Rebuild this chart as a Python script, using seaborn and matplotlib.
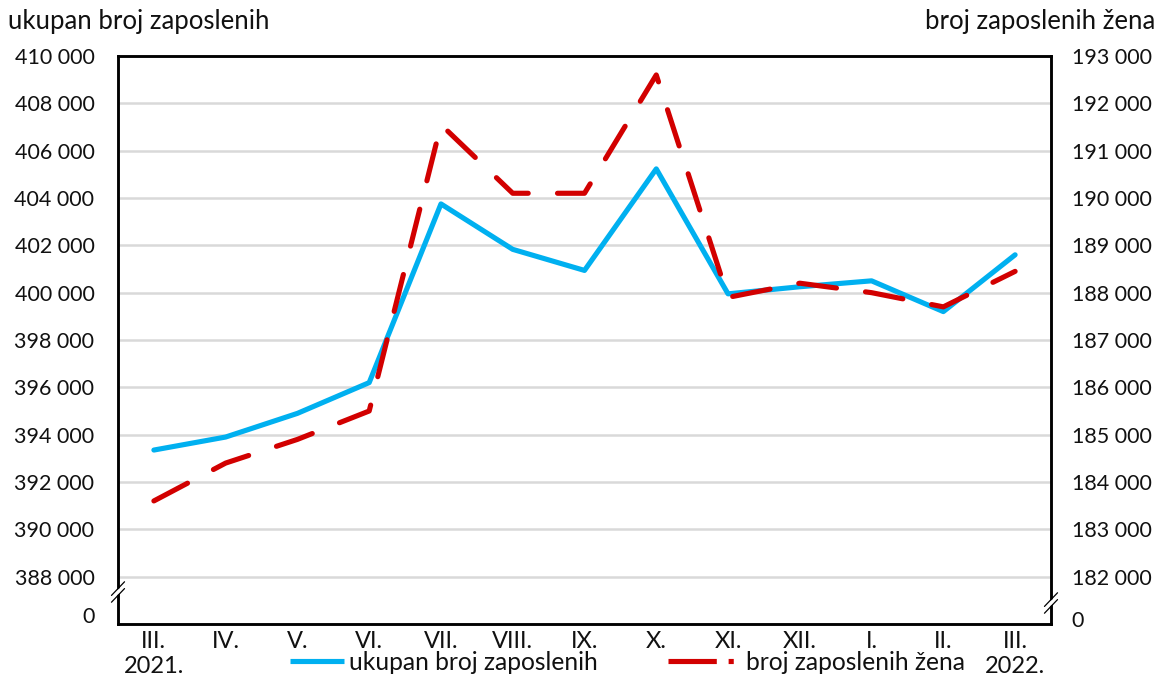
import numpy as np
import pandas as pd
import matplotlib
matplotlib.use("Agg")
import matplotlib.pyplot as plt
from matplotlib.lines import Line2D
import seaborn as sns

months = ["III.\n2021.", "IV.", "V.", "VI.", "VII.", "VIII.", "IX.", "X.",
          "XI.", "XII.", "I.", "II.", "III.\n2022."]
ukupno = [393350, 393900, 394900, 396200, 403750, 401830, 400940, 405230,
          399950, 400250, 400500, 399200, 401600]
zene = [183600, 184400, 184900, 185500, 191550, 190100, 190100, 192600,
        187900, 188200, 188000, 187700, 188450]
left_ticks = [386400, 388000, 390000, 392000, 394000, 396000, 398000, 400000,
              402000, 404000, 406000, 408000, 410000]
left_labels = ["0", "388 000", "390 000", "392 000", "394 000", "396 000", "398 000",
               "400 000", "402 000", "404 000", "406 000", "408 000", "410 000"]
right_ticks = [181100, 182000, 183000, 184000, 185000, 186000, 187000, 188000,
               189000, 190000, 191000, 192000, 193000]
right_labels = ["0", "182 000", "183 000", "184 000", "185 000", "186 000", "187 000",
                "188 000", "189 000", "190 000", "191 000", "192 000", "193 000"]
name1 = "ukupan broj zaposlenih"
name2 = "broj zaposlenih žena"

sns.set_theme(style="white")
plt.rcParams["font.family"] = ["Lato", "DejaVu Sans"]
FS_Y = 15.5
FS_X = 17
FS_LEG = 17.7
FS_T = 18.5
BLUE = "#00B0F0"
RED = "#D20000"
TXT = "#111111"
LW = 3.7

df = pd.DataFrame({"x": np.arange(len(months)), "ukupno": ukupno, "zene": zene})

fig = plt.figure(figsize=(11.6, 6.75), dpi=100)
ax = fig.add_axes([118/1160, 1-624/675, (1051-118)/1160, (624-56)/675])
ax2 = ax.twinx()

ax.set_ylim(386000, 410000)
ax.set_yticks(left_ticks)
ax.set_yticklabels(left_labels, fontsize=FS_Y)
for t in left_ticks[1:-1]:
    ax.axhline(t, color="#D9D9D9", lw=1.8, zorder=0)

sns.lineplot(data=df, x="x", y="ukupno", ax=ax, color=BLUE, lw=LW, zorder=3,
             legend=False)
blue_line = ax.lines[-1]
blue_line.set_solid_capstyle("round")
blue_line.set_solid_joinstyle("round")
sns.lineplot(data=df, x="x", y="zene", ax=ax2, color=RED, lw=LW, zorder=3,
             legend=False)
red_line = ax2.lines[-1]
red_line.set_dashes([7.4, 5.7])
red_line.set_dash_capstyle("round")
red_line.set_dash_joinstyle("round")

ax2.set_ylim(181000, 193000)
ax2.set_yticks(right_ticks)
ax2.set_yticklabels(right_labels, fontsize=FS_Y)

ax.set_xlim(-0.5, len(months) - 0.5)
ax.set_xticks(np.arange(len(months)))
ax.set_xticklabels(months, fontsize=FS_X, linespacing=1.25)

for a in (ax, ax2):
    a.set_xlabel("")
    a.set_ylabel("")
    for s in a.spines.values():
        s.set_color("black")
        s.set_linewidth(1.8)
    a.grid(False)
ax.tick_params(axis="y", length=0, pad=17, colors=TXT)
ax.tick_params(axis="x", length=0, pad=5, colors=TXT)
ax2.tick_params(axis="y", length=0, pad=15, colors=TXT)

# axis break marks
for xb, yb in [(0.0, (624-592)/568), (1.0, (624-603)/568)]:
    ax2.plot([xb - 0.005, xb + 0.005], [yb - 0.006, yb + 0.006], transform=ax.transAxes,
             color="white", lw=3, clip_on=False, zorder=9)
    for dy in (-0.006, 0.006):
        ax2.plot([xb - 0.007, xb + 0.007], [yb + dy - 0.012, yb + dy + 0.012],
                 transform=ax.transAxes, color="black", lw=0.9, clip_on=False, zorder=10)

fig.text(8/1160, 1-22/675, name1, fontsize=FS_T, ha="left", va="center", color=TXT)
fig.text(1155/1160, 1-22/675, name2, fontsize=FS_T, ha="right", va="center", color=TXT)

h1 = Line2D([], [], color=BLUE, lw=LW, solid_capstyle="butt")
h2 = Line2D([], [], color=RED, lw=LW, dashes=[9.4, 2.3, 1.0, 20], dash_capstyle="butt")
leg1 = fig.legend([h1], [name1], loc="center left", bbox_to_anchor=(290/1160, 1-662/675),
                  frameon=False, fontsize=FS_LEG, handlelength=2.2, handletextpad=0.2,
                  borderpad=0, borderaxespad=0, labelcolor=TXT)
leg2 = fig.legend([h2], [name2], loc="center left", bbox_to_anchor=(668/1160, 1-662/675),
                  frameon=False, fontsize=FS_LEG, handlelength=2.9, handletextpad=0.28,
                  borderpad=0, borderaxespad=0, labelcolor=TXT)

fig.savefig("out.png", dpi=100)
